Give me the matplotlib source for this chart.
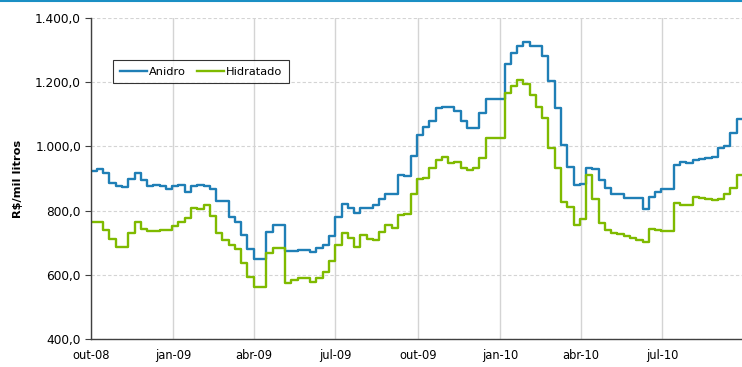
import matplotlib
matplotlib.use("Agg")
import matplotlib.pyplot as plt
from matplotlib.lines import Line2D
from matplotlib.ticker import FuncFormatter
import numpy as np
import pandas as pd

# weekly prices, R$/mil litros, starting early Oct 2008
anidro = [923, 930, 918, 885, 877, 875, 899, 916, 895, 877,
          881, 878, 868, 877, 880, 859, 878, 881, 877, 866,
          829, 829, 781, 766, 723, 682, 651, 651, 735, 755,
          755, 675, 675, 678, 678, 672, 683, 693, 722, 781,
          821, 809, 794, 809, 809, 817, 835, 851, 851, 910,
          907, 970, 1035, 1061, 1079, 1120, 1123, 1123, 1110, 1079,
          1058, 1058, 1103, 1147, 1147, 1147, 1256, 1290, 1312, 1323,
          1313, 1313, 1281, 1203, 1120, 1004, 937, 880, 883, 934,
          929, 895, 870, 851, 851, 838, 840, 840, 804, 843,
          859, 866, 866, 942, 951, 947, 957, 960, 963, 968,
          996, 1002, 1042, 1084]
hidratado = [766, 766, 740, 711, 686, 686, 731, 765, 742, 738,
             738, 740, 740, 753, 766, 776, 807, 805, 819, 783,
             730, 709, 693, 682, 638, 595, 564, 564, 669, 684,
             684, 576, 584, 591, 590, 579, 590, 609, 644, 693,
             729, 716, 688, 724, 711, 709, 735, 755, 745, 785,
             789, 851, 898, 901, 934, 957, 968, 949, 952, 932,
             926, 932, 965, 1025, 1025, 1025, 1167, 1189, 1206, 1193,
             1160, 1121, 1089, 996, 934, 826, 812, 755, 773, 911,
             836, 761, 740, 730, 728, 722, 714, 709, 704, 742,
             740, 738, 738, 825, 818, 818, 843, 838, 835, 833,
             836, 851, 871, 911]

tick_dates = ["2008-10-01", "2009-01-01", "2009-04-01", "2009-07-01",
              "2009-10-01", "2010-01-01", "2010-04-01", "2010-07-01"]
tick_labels = ["out-08", "jan-09", "abr-09", "jul-09",
               "out-09", "jan-10", "abr-10", "jul-10"]

plt.rcParams["font.family"] = ["DejaVu Sans"]


def br_fmt(v, p):
    s = f"{v:,.1f}"
    return s.replace(",", "X").replace(".", ",").replace("X", ".")


edges = pd.date_range("2008-10-01", periods=len(anidro) + 1, freq="7D")

fig = plt.figure(figsize=(7.42, 3.67), dpi=100)
ax = fig.add_axes([0.1222, 0.0755, 0.8778, 0.8763])

blue = "#1f7fb6"
green = "#7fba00"
ax.step(edges, anidro + [anidro[-1]], where="post", color=blue, lw=1.7, label="Anidro")
ax.step(edges, hidratado + [hidratado[-1]], where="post", color=green, lw=1.7, label="Hidratado")

ax.set_xlim(pd.Timestamp("2008-10-01"), pd.Timestamp("2010-09-28"))
ax.set_ylim(400, 1400)
ax.set_yticks(np.arange(400, 1401, 200))
ax.yaxis.set_major_formatter(FuncFormatter(br_fmt))
ax.set_xticks(pd.to_datetime(tick_dates))
ax.set_xticklabels(tick_labels)

ax.tick_params(axis="x", length=0, labelsize=8.3, pad=7, colors="#000000")
ax.tick_params(axis="y", length=4, width=0.8, labelsize=8.7, pad=3, color="#404040")

for s in ["top", "right"]:
    ax.spines[s].set_visible(False)
for s in ["left", "bottom"]:
    ax.spines[s].set_color("#404040")
    ax.spines[s].set_linewidth(1.0)

ax.xaxis.grid(True, color="#d4d4d4", lw=1.0, ls="-")
ax.yaxis.grid(True, color="#d4d4d4", lw=0.8, ls=(0, (3, 2)))
ax.set_axisbelow(True)

ax.set_ylabel("R$/mil litros", fontsize=8.2, fontweight="bold", labelpad=9)

leg = ax.legend(loc="upper left", bbox_to_anchor=(0.034, 0.869), ncol=2,
                frameon=True, fancybox=False, edgecolor="#000000", fontsize=8.2,
                handlelength=2.4, handletextpad=0.2, columnspacing=0.9,
                borderpad=0.6, borderaxespad=0)
leg.get_frame().set_linewidth(0.8)

fig.add_artist(Line2D([0, 1], [0.997, 0.997], transform=fig.transFigure, color="#1a8fc4", lw=1.5))

fig.savefig("out.png", dpi=100)
